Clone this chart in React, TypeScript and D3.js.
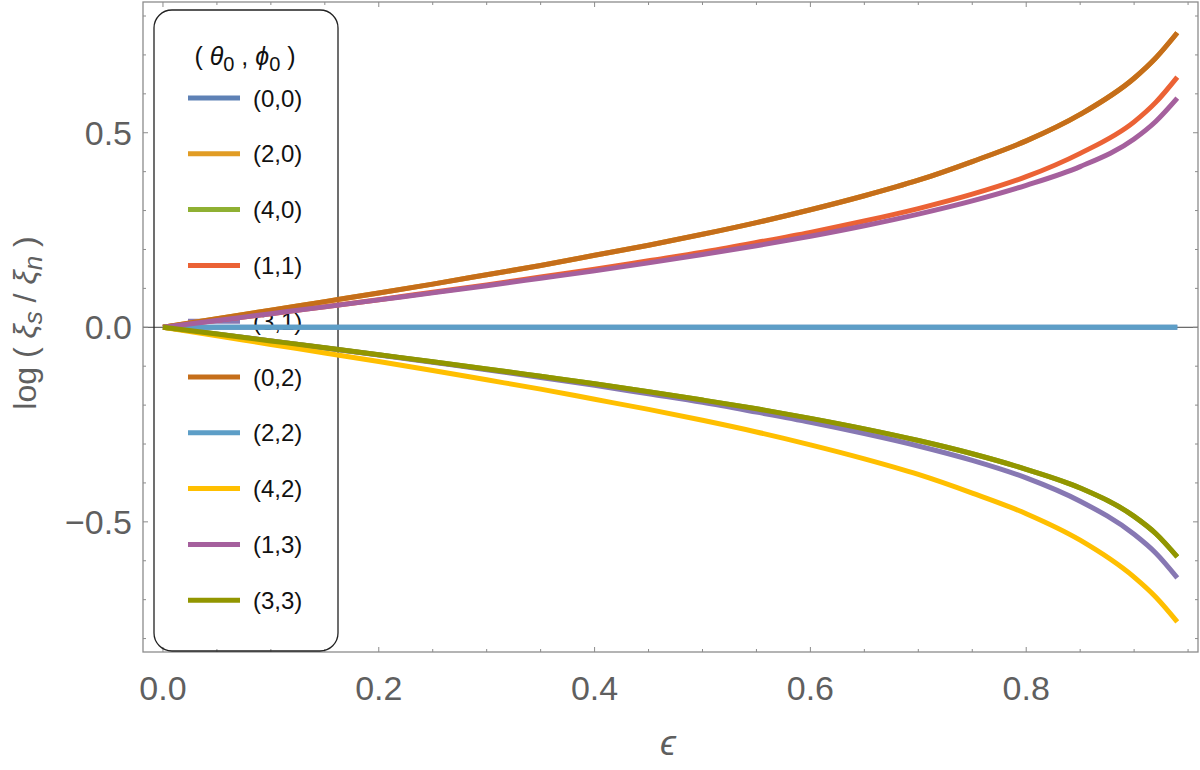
import React from "react";
import * as d3 from "d3";

const eps = [0, 0.05, 0.1, 0.15, 0.2, 0.25, 0.3, 0.35, 0.4, 0.45, 0.5, 0.55, 0.6, 0.65, 0.7, 0.75, 0.8, 0.85, 0.9, 0.92, 0.94];

const s00 = [0, 0, 0, 0, 0, 0, 0, 0, 0, 0, 0, 0, 0, 0, 0, 0, 0, 0, 0, 0, 0];
const s20 = [0, 0.022, 0.044, 0.066, 0.088, 0.111, 0.135, 0.159, 0.185, 0.211, 0.239, 0.269, 0.302, 0.338, 0.378, 0.426, 0.479, 0.547, 0.640, 0.692, 0.757];
const s40 = [0, -0.0175, -0.035, -0.0525, -0.0705, -0.0885, -0.107, -0.126, -0.145, -0.1655, -0.187, -0.2095, -0.234, -0.261, -0.291, -0.325, -0.365, -0.413, -0.486, -0.530, -0.590];
const s11 = [0, 0.018, 0.035, 0.053, 0.071, 0.090, 0.109, 0.129, 0.149, 0.171, 0.193, 0.218, 0.244, 0.273, 0.305, 0.342, 0.387, 0.447, 0.528, 0.578, 0.643];
const s31 = [0, -0.018, -0.035, -0.053, -0.071, -0.090, -0.109, -0.129, -0.149, -0.171, -0.193, -0.218, -0.244, -0.273, -0.305, -0.342, -0.387, -0.447, -0.532, -0.580, -0.644];
const s02 = [0, 0.022, 0.044, 0.066, 0.088, 0.111, 0.135, 0.159, 0.185, 0.211, 0.239, 0.269, 0.302, 0.338, 0.378, 0.426, 0.479, 0.547, 0.640, 0.692, 0.757];
const s22 = [0, 0, 0, 0, 0, 0, 0, 0, 0, 0, 0, 0, 0, 0, 0, 0, 0, 0, 0, 0, 0];
const s42 = [0, -0.022, -0.044, -0.066, -0.088, -0.111, -0.135, -0.159, -0.185, -0.211, -0.239, -0.269, -0.302, -0.338, -0.378, -0.426, -0.479, -0.547, -0.642, -0.693, -0.757];
const s13 = [0, 0.0175, 0.035, 0.0525, 0.0705, 0.0885, 0.107, 0.126, 0.145, 0.1655, 0.187, 0.2095, 0.234, 0.261, 0.291, 0.325, 0.365, 0.413, 0.484, 0.529, 0.589];
const s33 = [0, -0.0175, -0.035, -0.0525, -0.0705, -0.0885, -0.107, -0.126, -0.145, -0.1655, -0.187, -0.2095, -0.234, -0.261, -0.291, -0.325, -0.365, -0.413, -0.486, -0.530, -0.590];

const seriesLabels = ["(0,0)", "(2,0)", "(4,0)", "(1,1)", "(3,1)", "(0,2)", "(2,2)", "(4,2)", "(1,3)", "(3,3)"];
const seriesValues = [s00, s20, s40, s11, s31, s02, s22, s42, s13, s33];
const colors = ["#5E81B5", "#E19C24", "#8FB032", "#EB6235", "#8778B3", "#C56E1A", "#5D9EC7", "#FFBF00", "#A5609D", "#929600"];

const xTicks = [0, 0.2, 0.4, 0.6, 0.8];
const yTicks = [-0.5, 0, 0.5];

export default function App() {
  const W = 1200, H = 770;
  const left = 143, right = 1198, top = 2, bottom = 652;
  const x = d3.scaleLinear().domain([-0.0185, 0.9592]).range([left, right]);
  const y = d3.scaleLinear().domain([-0.8345, 0.836]).range([bottom, top]);

  const line = d3.line<number>()
    .x((_, i) => x(eps[i]))
    .y((d) => y(d))
    .curve(d3.curveMonotoneX);

  const xMinor = d3.range(0, 0.96, 0.05);
  const yMinor = d3.range(-0.8, 0.81, 0.1);
  const frameColor = "#8c8c8c";
  const labelColor = "#5f5f5f";
  const font = "'Liberation Sans', Arial, sans-serif";

  const legendY0 = 98;
  const legendStep = 55.8;

  return (
    <svg width={W} height={H} style={{ position: "absolute", left: 0, top: 0, background: "#fff" }} fontFamily={font}>
      {/* frame */}
      <rect x={left} y={top} width={right - left} height={bottom - top} fill="none" stroke={frameColor} strokeWidth={1.3} />
      {/* zero axis */}
      <line x1={left} x2={right} y1={y(0)} y2={y(0)} stroke="#444" strokeWidth={1} />
      {/* x ticks */}
      {xMinor.map((t, i) => {
        const major = Math.abs(Math.round(t / 0.2) * 0.2 - t) < 1e-6;
        const len = major ? 5 : 3;
        return (
          <g key={"xt" + i}>
            <line x1={x(t)} x2={x(t)} y1={bottom} y2={bottom - len} stroke={frameColor} strokeWidth={1} />
            <line x1={x(t)} x2={x(t)} y1={top} y2={top + len} stroke={frameColor} strokeWidth={1} />
          </g>
        );
      })}
      {yMinor.map((t, i) => {
        const major = Math.abs(Math.round(t / 0.5) * 0.5 - t) < 1e-6;
        const len = major ? 5 : 3;
        return (
          <g key={"yt" + i}>
            <line x1={left} x2={left + len} y1={y(t)} y2={y(t)} stroke={frameColor} strokeWidth={1} />
            <line x1={right} x2={right - len} y1={y(t)} y2={y(t)} stroke={frameColor} strokeWidth={1} />
          </g>
        );
      })}
      {xTicks.map((t) => (
        <text key={"xl" + t} x={x(t)} y={700} textAnchor="middle" fontSize={34} fill={labelColor}>
          {d3.format(".1f")(t)}
        </text>
      ))}
      {yTicks.map((t) => (
        <text key={"yl" + t} x={132} y={y(t)} dy="0.35em" textAnchor="end" fontSize={34} fill={labelColor}>
          {t < 0 ? "\u2212" + d3.format(".1f")(-t) : d3.format(".1f")(t)}
        </text>
      ))}
      {/* axis labels */}
      <text x={668} y={755} textAnchor="middle" fontSize={36} fill={labelColor} fontStyle="italic">ϵ</text>
      <text transform={`translate(36,323) rotate(-90)`} textAnchor="middle" fontSize={32} fill={labelColor}>
        <tspan>log ( </tspan>
        <tspan fontStyle="italic">ξ</tspan>
        <tspan fontStyle="italic" fontSize={26} dy={6}>s</tspan>
        <tspan dy={-6}> / </tspan>
        <tspan fontStyle="italic">ξ</tspan>
        <tspan fontStyle="italic" fontSize={26} dy={6}>n</tspan>
        <tspan dy={-6}> )</tspan>
      </text>
      {/* legend */}
      <rect x={154} y={10} width={184} height={641} rx={18} ry={18} fill="none" stroke="#222" strokeWidth={1.3} />
      <text x={245} y={65} textAnchor="middle" fontSize={25} fill="#111">
        <tspan>( </tspan>
        <tspan fontStyle="italic">θ</tspan>
        <tspan fontSize={20} dy={6}>0</tspan>
        <tspan dy={-6}> , </tspan>
        <tspan fontStyle="italic">ϕ</tspan>
        <tspan fontSize={20} dy={6}>0</tspan>
        <tspan dy={-6}> )</tspan>
      </text>
      {seriesLabels.map((lab, i) => {
        const cy = legendY0 + i * legendStep;
        return (
          <g key={"lg" + i}>
            <line x1={188} x2={240} y1={cy} y2={cy} stroke={colors[i]} strokeWidth={5} />
            <text x={253} y={cy} dy="0.36em" fontSize={24} fill="#111">{lab}</text>
          </g>
        );
      })}
      {/* curves */}
      {seriesValues.map((vals, i) => (
        <path key={"c" + i} d={line(vals) || ""} fill="none" stroke={colors[i]} strokeWidth={5} strokeLinejoin="round" />
      ))}
    </svg>
  );
}
